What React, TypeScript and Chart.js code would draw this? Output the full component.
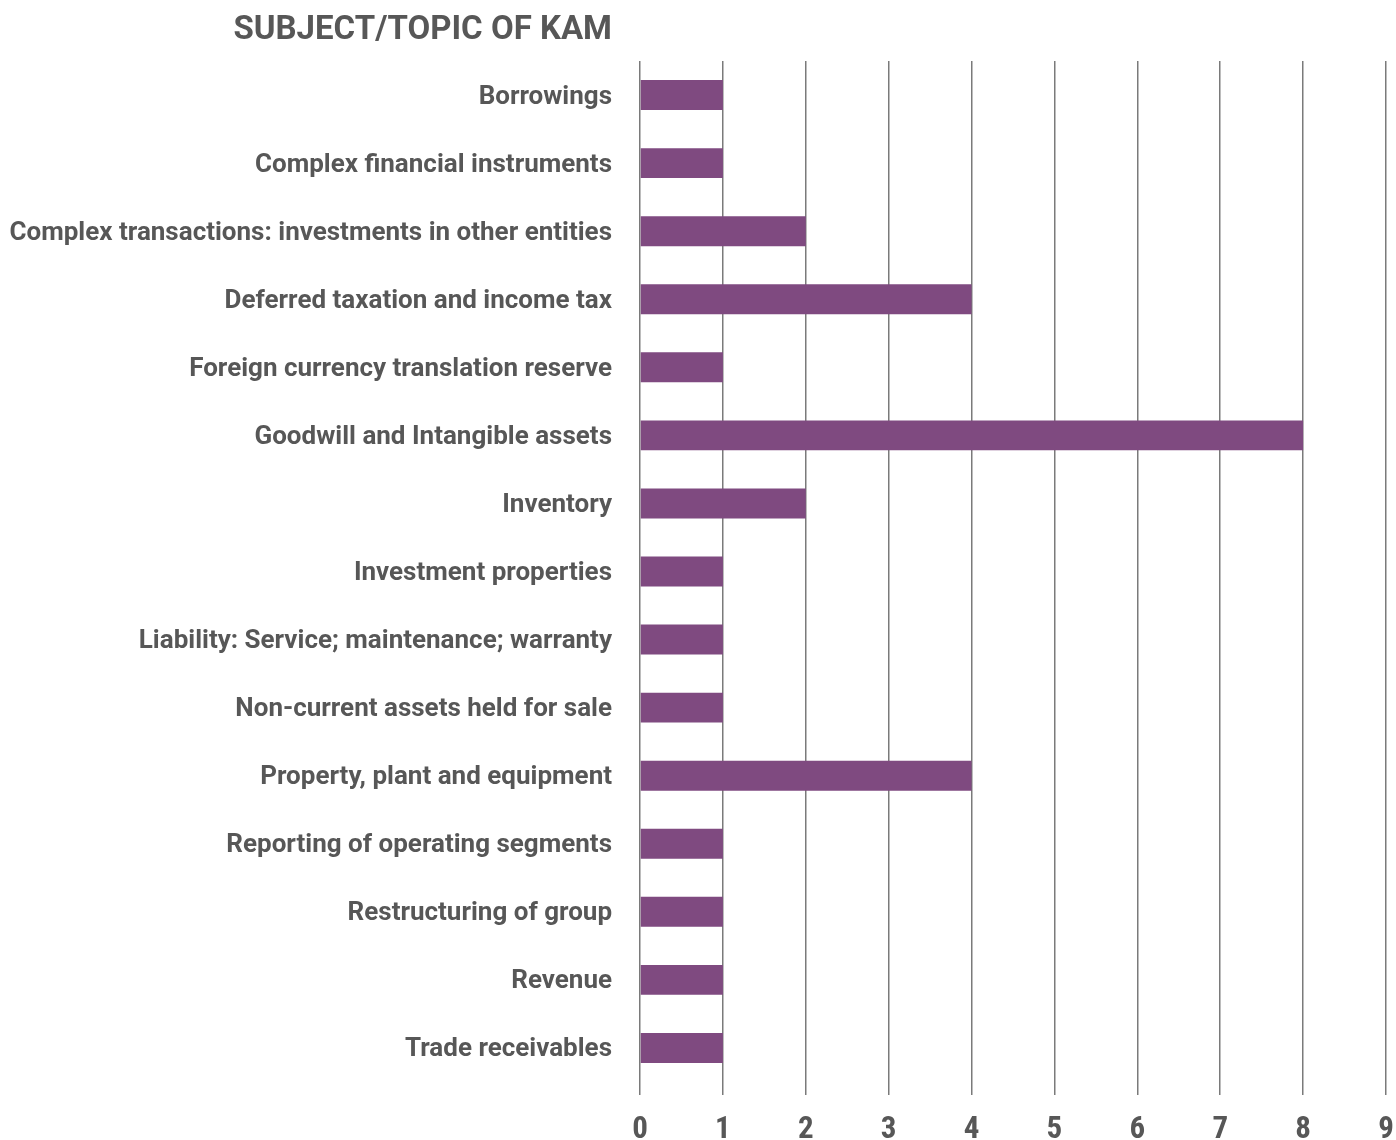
import React, { useEffect, useRef } from "react";
import { Chart, registerables } from "chart.js";

Chart.register(...registerables);

const titleText = "SUBJECT/TOPIC OF KAM";
const categories = [
  "Borrowings",
  "Complex financial instruments",
  "Complex transactions: investments in other entities",
  "Deferred taxation and income tax",
  "Foreign currency translation reserve",
  "Goodwill and Intangible assets",
  "Inventory",
  "Investment properties",
  "Liability: Service; maintenance; warranty",
  "Non-current assets held for sale",
  "Property, plant and equipment",
  "Reporting of operating segments",
  "Restructuring of group",
  "Revenue",
  "Trade receivables",
];
const counts = [1, 1, 2, 4, 1, 8, 2, 1, 1, 1, 4, 1, 1, 1, 1];
const xMin = 0;
const xMax = 9;

const TEXT = "#575757";
const BAR = "#7f4a80";
const GRID = "#7a7a7a";

const titlePlugin = {
  id: "leftTitle",
  afterDraw(chart: any) {
    const ctx = chart.ctx;
    ctx.save();
    ctx.font = "bold 33px Roboto, 'Liberation Sans', sans-serif";
    ctx.fillStyle = TEXT;
    ctx.textAlign = "right";
    ctx.textBaseline = "alphabetic";
    ctx.fillText(titleText, chart.chartArea.left - 28, 39);
    ctx.restore();
  },
};

export default function App() {
  const ref = useRef<HTMLCanvasElement | null>(null);
  useEffect(() => {
    if (!ref.current) return;
    const chart = new Chart(ref.current, {
      type: "bar",
      data: {
        labels: categories,
        datasets: [
          {
            data: counts,
            backgroundColor: BAR,
            borderWidth: 0,
            barPercentage: 0.44,
            categoryPercentage: 1,
          },
        ],
      },
      options: {
        indexAxis: "y",
        animation: false,
        responsive: false,
        maintainAspectRatio: false,
        layout: { padding: { top: 61, right: 10, left: 0, bottom: 0 } },
        plugins: {
          legend: { display: false },
          tooltip: { enabled: false },
          title: { display: false },
        },
        scales: {
          x: {
            min: xMin,
            max: xMax,
            position: "bottom",
            ticks: {
              stepSize: 1,
              padding: 17,
              color: TEXT,
              font: { family: "'Liberation Sans Narrow', 'Roboto Condensed', Roboto, sans-serif", size: 31, weight: "bold" },
            },
            grid: {
              color: GRID,
              lineWidth: 1.5,
              drawTicks: true,
              tickLength: 13,
              tickColor: GRID,
              tickWidth: 1.5,
            },
            border: { display: false },
            afterFit(scale: any) {
              scale.height = 58;
              scale.paddingRight = 0;
              scale.paddingLeft = 0;
            },
          },
          y: {
            grid: { display: false, drawTicks: false },
            border: { display: false },
            ticks: {
              padding: 28,
              labelOffset: 2,
              color: TEXT,
              font: { family: "Roboto, 'Liberation Sans', sans-serif", size: 26, weight: "bold" },
            },
            afterFit(scale: any) {
              scale.width = 640;
              scale.paddingTop = 0;
              scale.paddingBottom = 0;
            },
          },
        },
      },
      plugins: [titlePlugin],
    });
    return () => chart.destroy();
  }, []);
  return (
    <div style={{ position: "fixed", left: 0, top: 0, width: 1396, height: 1140, background: "#fff" }}>
      <canvas ref={ref} width={1396} height={1140} style={{ width: 1396, height: 1140 }} />
    </div>
  );
}
